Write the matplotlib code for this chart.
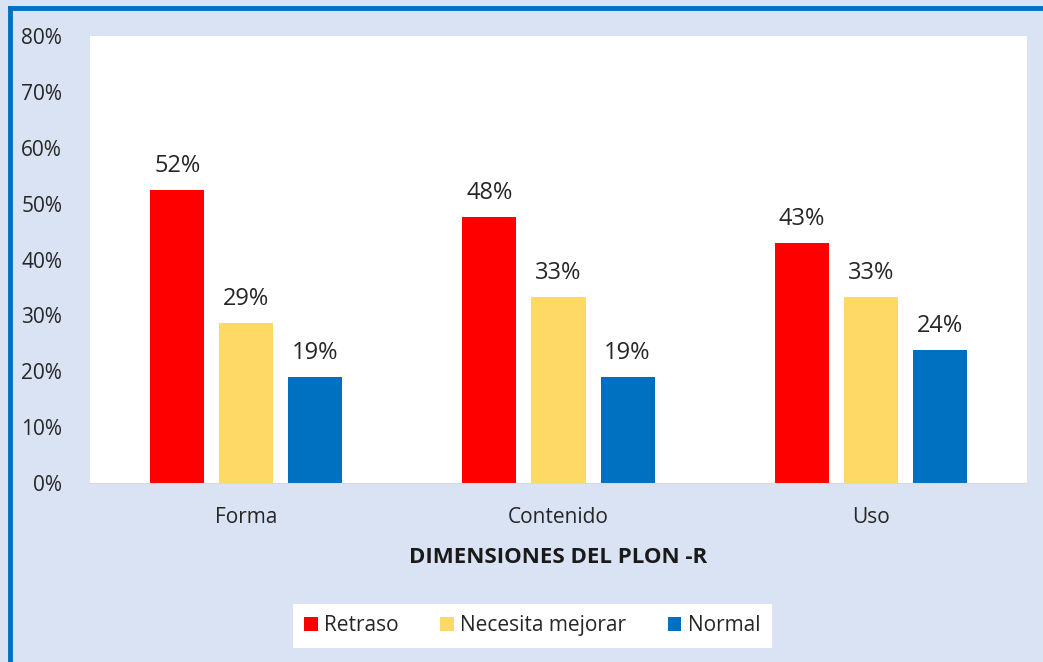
import numpy as np
import matplotlib.pyplot as plt
from matplotlib.lines import Line2D

plt.rcParams['font.family'] = ['Open Sans', 'DejaVu Sans']

categorias = ['Forma', 'Contenido', 'Uso']
series = ['Retraso', 'Necesita mejorar', 'Normal']
retraso = [52.4, 47.6, 42.9]
necesita = [28.6, 33.3, 33.3]
normal = [19.0, 19.0, 23.8]
colores = ['#ff0000', '#ffd966', '#0070c0']
yticks = [0, 10, 20, 30, 40, 50, 60, 70, 80]

fig = plt.figure(figsize=(10.43, 6.62), dpi=100, facecolor='#dae3f3')
ax = fig.add_axes([90/1043, 1-483/662, (1027-90)/1043, (483-36)/662])
ax.set_facecolor('white')

x = np.arange(len(categorias))
w = 0.173
paso = 0.221
for i, (vals, nombre) in enumerate(zip([retraso, necesita, normal], series)):
    pos = x + (i-1)*paso
    bars = ax.bar(pos, vals, w, color=colores[i], label=nombre, zorder=2)
    for b, v in zip(bars, vals):
        ax.text(b.get_x()+b.get_width()/2, v+2.2, '%d%%' % round(v),
                ha='center', va='bottom', fontsize=17, color='#262626')

ax.set_xlim(-0.5, 2.5)
ax.set_ylim(0, 80)
ax.set_yticks(yticks)
ax.set_yticklabels(['%d%%' % t for t in yticks], fontsize=15, color='#262626')
ax.set_xticks(x)
ax.set_xticklabels(categorias, fontsize=15, color='#262626')
ax.tick_params(length=0)
ax.tick_params(axis='x', pad=17)
ax.tick_params(axis='y', pad=20)
for s in ['top', 'right', 'left']:
    ax.spines[s].set_visible(False)
ax.spines['bottom'].set_color('#d9d9d9')
ax.set_xlabel('DIMENSIONES DEL PLON -R', fontsize=16, fontweight='bold',
              color='#1a1a1a', labelpad=14)

leg = ax.legend(loc='upper center', bbox_to_anchor=(0.472, -0.247), ncol=3,
                frameon=True, fancybox=False, fontsize=15, handlelength=0.65,
                handleheight=0.65, handletextpad=0.3, columnspacing=2.0,
                borderpad=0.55, framealpha=1)
leg.get_frame().set_edgecolor('white')
leg.get_frame().set_facecolor('white')
leg.get_frame().set_linewidth(0)
for t in leg.get_texts():
    t.set_color('#262626')

# borde azul
fig.add_artist(Line2D([10/1043, 10/1043], [0, 1-8/662], color='#0070c0', lw=3.5))
fig.add_artist(Line2D([10/1043, 1], [1-8/662, 1-8/662], color='#0070c0', lw=3.5))

fig.savefig('out.png', dpi=100, facecolor=fig.get_facecolor())
